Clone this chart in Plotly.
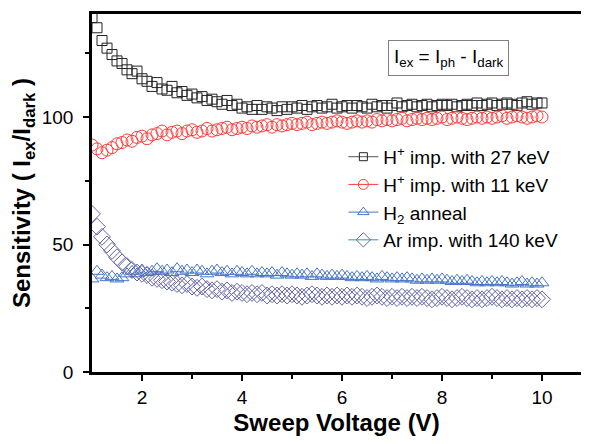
import plotly.graph_objects as go

# sweep voltage (V)
voltage = [1.0, 1.1, 1.2, 1.3, 1.4, 1.5, 1.6, 1.7, 1.8, 1.9,
           2.0, 2.1, 2.2, 2.3, 2.4, 2.5, 2.6, 2.7, 2.8, 2.9,
           3.0, 3.1, 3.2, 3.3, 3.4, 3.5, 3.6, 3.7, 3.8, 3.9,
           4.0, 4.1, 4.2, 4.3, 4.4, 4.5, 4.6, 4.7, 4.8, 4.9,
           5.0, 5.1, 5.2, 5.3, 5.4, 5.5, 5.6, 5.7, 5.8, 5.9,
           6.0, 6.1, 6.2, 6.3, 6.4, 6.5, 6.6, 6.7, 6.8, 6.9,
           7.0, 7.1, 7.2, 7.3, 7.4, 7.5, 7.6, 7.7, 7.8, 7.9,
           8.0, 8.1, 8.2, 8.3, 8.4, 8.5, 8.6, 8.7, 8.8, 8.9,
           9.0, 9.1, 9.2, 9.3, 9.4, 9.5, 9.6, 9.7, 9.8, 9.9,
           10.0]

# H+ imp. with 27 keV
h27 = [139, 135, 130, 127, 124.5, 122, 121, 118.5, 117, 118,
       115, 114, 112, 113.5, 111, 110.5, 112, 109.5, 110, 108.5,
       109, 107.5, 108, 106.5, 107, 106, 105, 106.5, 104.5, 105,
       103.5, 104, 103, 104.5, 103, 104, 103.5, 102.5, 104, 103,
       104, 103.5, 104.5, 103, 104, 104.5, 103.5, 104, 105, 103.5,
       104, 104.5, 103.5, 104.5, 104, 103.5, 105, 104, 104.5, 103.5,
       104.5, 105.5, 104, 104.5, 105, 104, 104.5, 105, 104, 104.5,
       105, 104.5, 105, 104, 104.5, 105, 104.5, 105.5, 104.5, 105,
       105.5, 104.5, 105, 105.5, 105, 104.5, 105.5, 106, 105, 105.5,
       105.5]

# H+ imp. with 11 keV
h11 = [89, 87.5, 86, 87, 88, 89.5, 90, 91, 90.5, 92,
       92.5, 91.5, 93, 93.5, 94.5, 93, 94, 94.5, 93.5, 94.5,
       95, 94, 94.5, 95.5, 94.5, 95, 95.5, 96, 95, 95.5,
       96, 95.5, 96.5, 96, 96.5, 97, 96, 97, 96.5, 97,
       97.5, 97, 97.5, 98, 97, 97.5, 98, 97.5, 98, 98.5,
       98, 97.5, 98, 98.5, 98, 98.5, 98, 99, 98.5, 99,
       98.5, 99, 99.5, 98.5, 99, 99.5, 99, 99.5, 99, 99.5,
       100, 99, 99.5, 100, 99.5, 99, 99.5, 100, 99.5, 100,
       99.5, 100, 100.5, 99.5, 100, 100.5, 100, 99.5, 100, 100.5,
       100]

# H2 anneal
h2 = [36.5, 39.5, 38, 37, 37.5, 36.5, 37, 38.5, 39.5, 38.5,
      40, 39, 39.5, 40.5, 39.5, 40, 39, 40.5, 39.5, 40,
      39, 40, 39.5, 38.5, 39.5, 40, 39, 39.5, 38.5, 39.5,
      39, 38.5, 39.5, 38.5, 39, 38.5, 39, 38, 39, 38.5,
      38, 38.5, 38, 38.5, 37.5, 38.5, 38, 37.5, 38, 37.5,
      38, 37.5, 37, 37.5, 37, 37.5, 37, 36.5, 37.5, 37,
      36.5, 37, 36.5, 37, 36.5, 36, 36.5, 36, 36.5, 36,
      36.5, 36, 35.5, 36, 35.5, 36, 35.5, 35, 35.5, 35,
      35.5, 35, 35.5, 35, 34.5, 35, 35.5, 34.5, 35, 34.5,
      35]

# Ar imp. with 140 keV
ar140 = [62, 57, 53, 50, 47.5, 45, 43, 41.5, 40, 39,
         38.5, 38, 37, 36.5, 36, 35.5, 35, 34.5, 34, 34.5,
         33.5, 33, 33.5, 32.5, 32, 32.5, 31.5, 32, 31, 31.5,
         31, 30.5, 31, 30.5, 31, 30, 30.5, 30, 30.5, 30,
         30.5, 30, 29.5, 30, 30.5, 30, 29.5, 30, 29.5, 30,
         29.5, 30, 29.5, 30, 29.5, 29, 29.5, 30, 29.5, 29,
         29.5, 29, 29.5, 29, 29.5, 29, 29.5, 29, 28.5, 29,
         29.5, 29, 28.5, 29, 29.5, 29, 28.5, 29, 28.5, 29,
         29.5, 29, 28.5, 29, 28.5, 29, 28.5, 29, 28.5, 29,
         28.5]

FONT = "Arial, Liberation Sans, sans-serif"

# (values, legend label, marker symbol, marker colour, legend line colour, size)
series = [
    (h27, "H<sup>+</sup> imp. with 27 keV", "square-open", "#222222", "#555555", 10),
    (h11, "H<sup>+</sup> imp. with 11 keV", "circle-open", "#ff3c3c", "#ff3c3c", 12),
    (h2, "H<sub>2</sub> anneal", "triangle-up-open", "#4474cc", "#4474cc", 12),
    (ar140, "Ar imp. with 140 keV", "diamond-open", "#6464a8", "#2e9a9a", 13),
]

fig = go.Figure()

# 数据点（仅符号）
for vals, label, sym, col, lcol, size in series:
    fig.add_trace(go.Scatter(
        x=voltage, y=vals, mode="markers", showlegend=False,
        marker=dict(symbol=sym, size=size, color=col, line=dict(width=1, color=col)),
    ))

# 图例（线 + 符号），Origin 风格
for vals, label, sym, col, lcol, size in series:
    fig.add_trace(go.Scatter(
        x=[None], y=[None], mode="lines+markers", name=label,
        line=dict(color=lcol, width=1),
        marker=dict(symbol=sym, size=size - 2, color=col, line=dict(width=1, color=col)),
    ))

fig.add_annotation(
    x=0.729, y=0.877, xref="paper", yref="paper", xanchor="center", yanchor="middle",
    text="I<sub>ex</sub> = I<sub>ph</sub> - I<sub>dark</sub>",
    showarrow=False, font=dict(family=FONT, size=19, color="black"),
    bordercolor="#808080", borderwidth=1, borderpad=5, bgcolor="white",
)

# 页面 body 自带 8px 边距，尺寸按此留出
fig.update_layout(
    width=573, height=428,
    margin=dict(l=84, r=0, t=6, b=64),
    paper_bgcolor="white", plot_bgcolor="white",
    font=dict(family=FONT, size=18, color="black"),
    legend=dict(
        x=0.514, y=0.654, xanchor="left", yanchor="top",
        font=dict(family=FONT, size=19, color="black"),
        bgcolor="rgba(0,0,0,0)", tracegroupgap=0,
    ),
)

fig.update_xaxes(
    range=[1, 10.78], showgrid=False, zeroline=False, automargin=False,
    showline=True, linewidth=2.5, linecolor="black", mirror=True,
    ticks="outside", ticklen=6, tickwidth=2, tickcolor="black",
    tickvals=[2, 4, 6, 8, 10],
    minor=dict(tickvals=[3, 5, 7, 9], ticks="outside", ticklen=4, tickwidth=2, tickcolor="black"),
    tickfont=dict(family=FONT, size=19, color="black"),
    title=dict(text="<b>Sweep Voltage (V)</b>", font=dict(family=FONT, size=24, color="black"), standoff=16),
)

fig.update_yaxes(
    range=[0, 140.4], showgrid=False, zeroline=False, automargin=False,
    showline=True, linewidth=2.5, linecolor="black",
    ticks="outside", ticklen=6, tickwidth=2, tickcolor="black",
    tickvals=[0, 50, 100], ticklabelstandoff=6,
    minor=dict(tickvals=[25, 75, 125], ticks="outside", ticklen=4, tickwidth=2, tickcolor="black"),
    tickfont=dict(family=FONT, size=19, color="black"),
    title=dict(text="<b>Sensitivity ( I<sub>ex</sub>/I<sub>dark</sub> )</b>",
               font=dict(family=FONT, size=24, color="black"), standoff=8),
)

fig.write_html("out.html")
